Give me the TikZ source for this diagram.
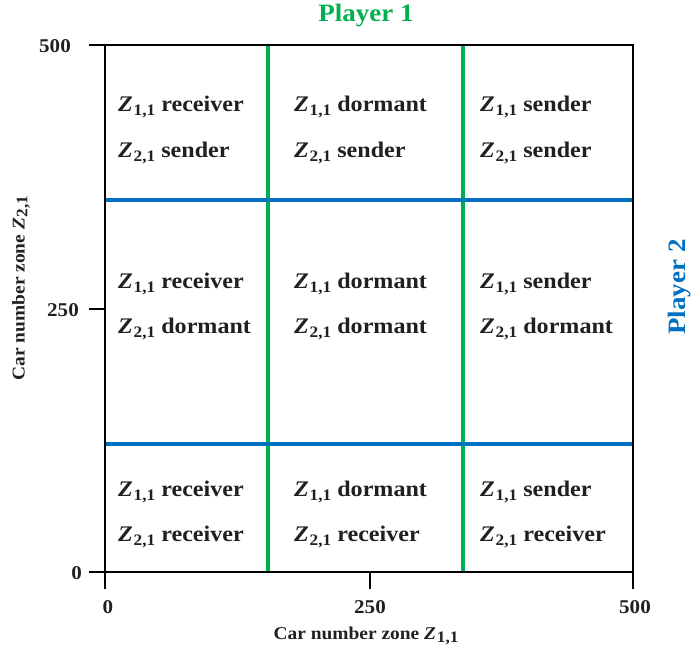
\documentclass[tikz,border=0pt]{standalone}
\usepackage{fontspec}
\setmainfont[FakeStretch=1.08]{Liberation Serif}
\definecolor{pgreen}{HTML}{00B050}
\definecolor{pblue}{HTML}{0070C0}
\definecolor{txt}{HTML}{231F20}
\newcommand{\Zsub}[1]{\textit{Z}\kern0.8pt\raisebox{-0.35ex}{\fontsize{16pt}{16pt}\selectfont #1}}
\begin{document}
\begin{tikzpicture}[x=1pt,y=-1pt,
  cell/.style={anchor=west,font=\fontsize{22.3pt}{24pt}\bfseries,text=txt,inner sep=0pt},
  tick/.style={font=\fontsize{19.5pt}{22pt}\bfseries,text=txt,inner sep=0pt},
  axlab/.style={font=\fontsize{18pt}{21pt}\bfseries,text=txt,inner sep=0pt},
  gline/.style={draw=pgreen,line width=4pt},
  bline/.style={draw=pblue,line width=4pt},
  frame/.style={draw=black,line width=2pt}]
\useasboundingbox (0,0) rectangle (692,653);
\coordinate (tl) at (105,45);
\coordinate (br) at (633,572);
% grid lines
\coordinate (g1t) at (268,45); \coordinate (g1b) at (268,572);
\coordinate (g2t) at (463,45); \coordinate (g2b) at (463,572);
\coordinate (b1l) at (105,200); \coordinate (b1r) at (633,200);
\coordinate (b2l) at (105,444); \coordinate (b2r) at (633,444);
\draw[gline] (g1t) -- (g1b);
\draw[gline] (g2t) -- (g2b);
\draw[bline] (b1l) -- (b1r);
\draw[bline] (b2l) -- (b2r);
\draw[frame] (tl) rectangle (br);
% ticks
\coordinate (ty500) at (89,45); \coordinate (ty500e) at (105,45);
\coordinate (ty250) at (89,309); \coordinate (ty250e) at (105,309);
\coordinate (ty0) at (89,572); \coordinate (ty0e) at (105,572);
\coordinate (tx0) at (105,589); \coordinate (tx0e) at (105,572);
\coordinate (tx250) at (370,589); \coordinate (tx250e) at (370,572);
\coordinate (tx500) at (633,589); \coordinate (tx500e) at (633,572);
\draw[frame] (ty500) -- (ty500e);
\draw[frame] (ty250) -- (ty250e);
\draw[frame] (ty0) -- (ty0e);
\draw[frame] (tx0) -- (tx0e);
\draw[frame] (tx250) -- (tx250e);
\draw[frame] (tx500) -- (tx500e);
\node[tick,anchor=east] (l500) at (71,46) {500};
\node[tick,anchor=east] (l250) at (79,310) {250};
\node[tick,anchor=east] (l0) at (82,573) {0};
\node[tick] (b0) at (108,607) {0};
\node[tick] (b250) at (370,607) {250};
\node[tick] (b500) at (635,607) {500};
\node[axlab] (xlab) at (366,636) {Car number zone \Zsub{1,1}};
\node[axlab,rotate=90] (ylab) at (21,288) {Car number zone \Zsub{2,1}};
\node[font=\fontsize{25pt}{30pt}\bfseries,text=pgreen,inner sep=0pt] (p1) at (366,16) {Player 1};
\node[font=\fontsize{25pt}{30pt}\bfseries,text=pblue,inner sep=0pt,rotate=90] (p2) at (680,287) {Player 2};
% cells
\node[cell] (c11a) at (118,107) {\Zsub{1,1} receiver};
\node[cell] (c11b) at (118,153) {\Zsub{2,1} sender};
\node[cell] (c12a) at (294,107) {\Zsub{1,1} dormant};
\node[cell] (c12b) at (294,153) {\Zsub{2,1} sender};
\node[cell] (c13a) at (480,107) {\Zsub{1,1} sender};
\node[cell] (c13b) at (480,153) {\Zsub{2,1} sender};
\node[cell] (c21a) at (118,284) {\Zsub{1,1} receiver};
\node[cell] (c21b) at (118,329) {\Zsub{2,1} dormant};
\node[cell] (c22a) at (294,284) {\Zsub{1,1} dormant};
\node[cell] (c22b) at (294,329) {\Zsub{2,1} dormant};
\node[cell] (c23a) at (480,284) {\Zsub{1,1} sender};
\node[cell] (c23b) at (480,329) {\Zsub{2,1} dormant};
\node[cell] (c31a) at (118,492) {\Zsub{1,1} receiver};
\node[cell] (c31b) at (118,537) {\Zsub{2,1} receiver};
\node[cell] (c32a) at (294,492) {\Zsub{1,1} dormant};
\node[cell] (c32b) at (294,537) {\Zsub{2,1} receiver};
\node[cell] (c33a) at (480,492) {\Zsub{1,1} sender};
\node[cell] (c33b) at (480,537) {\Zsub{2,1} receiver};
\end{tikzpicture}
\end{document}
